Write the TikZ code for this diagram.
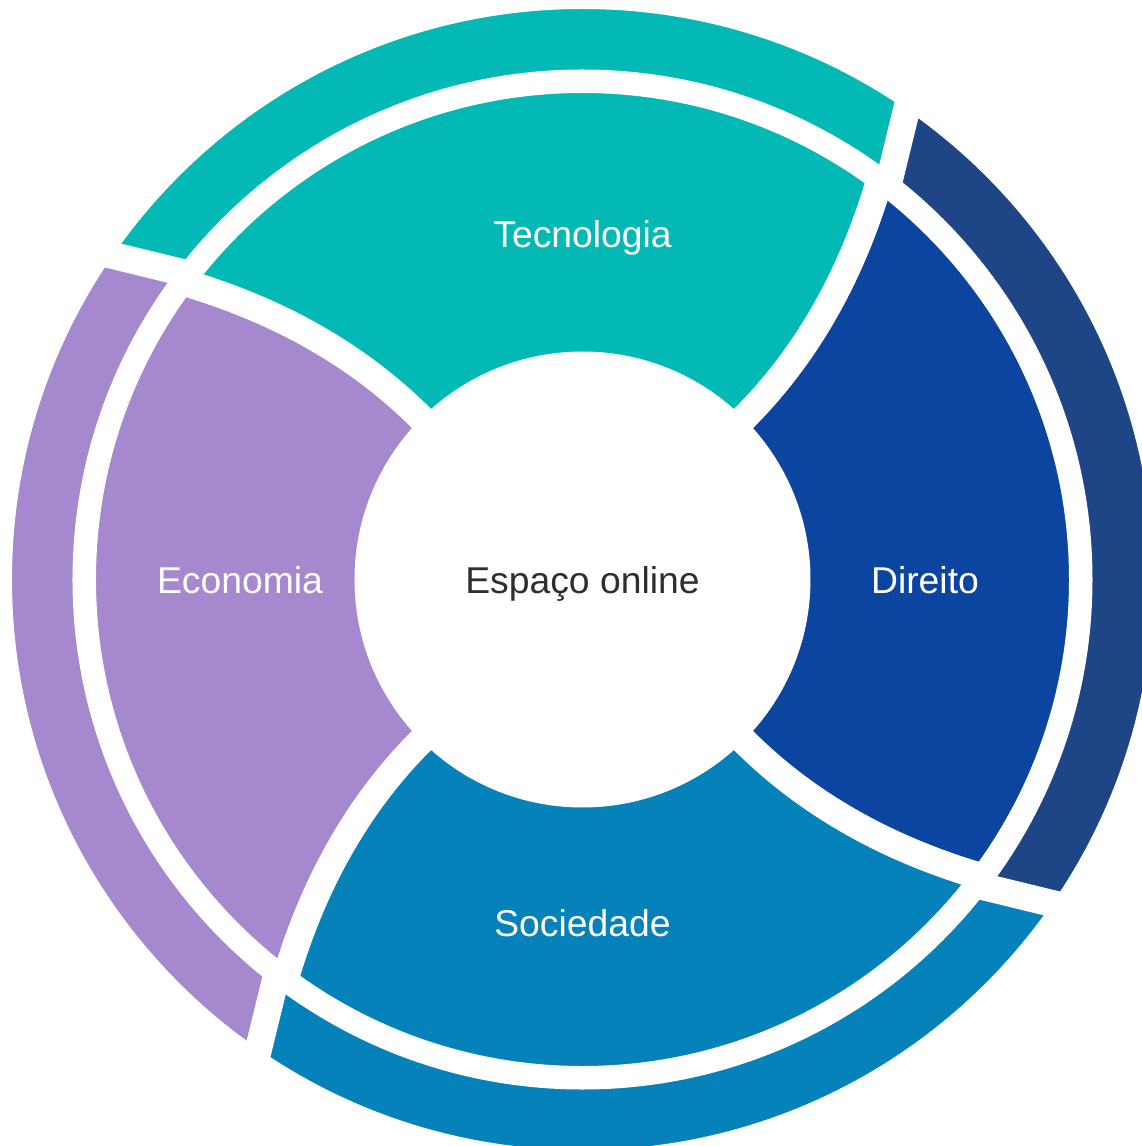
\documentclass[tikz,border=0pt]{standalone}
\usepackage{fontspec}
\setmainfont{Liberation Sans}
\definecolor{tealC}{HTML}{02B9B5}
\definecolor{ecoC}{HTML}{A688CE}
\definecolor{socC}{HTML}{0582BA}
\definecolor{dirIn}{HTML}{0B45A0}
\definecolor{dirOut}{HTML}{1E4687}
\definecolor{centreText}{HTML}{2E2E2E}
\begin{document}
\begin{tikzpicture}[x=1pt,y=1pt,
  labeltext/.style={anchor=base, font=\fontsize{37.3}{42}\selectfont, text=white, inner sep=0pt},
  gapline/.style={white, line width=27pt}]
\useasboundingbox (-582.5,-566.5) rectangle (559.5,579.5);
\clip (-582.5,-566.5) rectangle (559.5,579.5);
% coloured segments (outer colour over the whole wedge)
\foreach \a/\c in {45/tealC, 135/ecoC, 225/socC, -45/dirOut} {
  \fill[\c] (0,0) -- (\a:228) .. controls (\a:318) and ({\a+3.516}:408.77) .. ({\a+8.587}:503.6)
    -- ({\a+7.51}:504.3) -- ({\a+12.94}:646.4)
    arc[start angle={\a+12.94}, end angle={\a+102.94}, radius=646.4]
    -- ({\a+97.51}:504.3) -- ({\a+98.587}:503.6)
    .. controls ({\a+93.516}:408.77) and ({\a+90}:318) .. ({\a+90}:228) -- cycle;
}
% inner part of Direito is a brighter blue
\begin{scope}
  \clip (0,0) circle[radius=498];
  \fill[dirIn] (0,0) -- (-45:228) .. controls (-45:318) and ({-45+3.516}:408.77) .. ({-45+8.587}:503.6)
    -- ({-45+7.51}:504.3) -- ({-45+12.94}:646.4)
    arc[start angle={-45+12.94}, end angle={-45+102.94}, radius=646.4]
    -- ({-45+97.51}:504.3) -- ({-45+98.587}:503.6)
    .. controls ({45+3.516}:408.77) and (45:318) .. (45:228) -- cycle;
\end{scope}
% white separations
\draw[white, line width=23.5pt] (0,0) circle[radius=498.25];
\draw[white, line width=200pt] (0,0) circle[radius=670.5];
\foreach \a in {45,135,225,315} {
  \draw[gapline] (\a:190) -- (\a:228) .. controls (\a:318) and ({\a+3.516}:408.77) .. ({\a+8.587}:503.6);
  \draw[gapline] ({\a+7.23}:499) -- ({\a+12.94}:646.4);
}
\fill[white] (0,0) circle[radius=228];
% labels
\node[labeltext] (tec) at (0,332) {Tecnologia};
\node[labeltext] (eco) at (-342.5,-13.5) {Economia};
\node[labeltext] (dir) at (342.5,-13.5) {Direito};
\node[labeltext] (soc) at (0,-357) {Sociedade};
\node[labeltext, text=centreText] (centre) at (0,-13.5) {Espaço online};
\end{tikzpicture}
\end{document}
